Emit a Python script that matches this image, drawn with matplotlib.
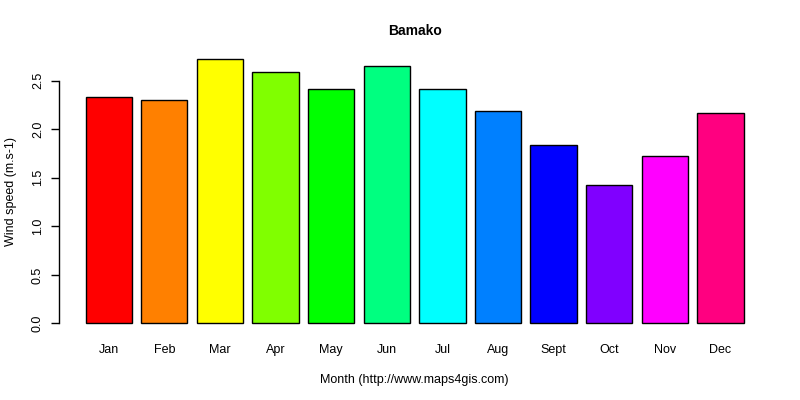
import matplotlib
matplotlib.use("Agg")
import matplotlib.pyplot as plt

months = ["Jan", "Feb", "Mar", "Apr", "May", "Jun", "Jul", "Aug", "Sept", "Oct", "Nov", "Dec"]
wind = [2.33, 2.30, 2.72, 2.59, 2.41, 2.65, 2.41, 2.19, 1.84, 1.43, 1.72, 2.17]
colors = ["#FF0000", "#FF8000", "#FFFF00", "#80FF00", "#00FF00", "#00FF80",
          "#00FFFF", "#0080FF", "#0000FF", "#8000FF", "#FF00FF", "#FF0080"]
yticks = [0.0, 0.5, 1.0, 1.5, 2.0, 2.5]
title = "Bamako"
xlabel = "Month (http://www.maps4gis.com)"
ylabel = "Wind speed (m.s-1)"

plt.rcParams['font.family'] = ['Liberation Sans', 'DejaVu Sans']
fs = 9

fig = plt.figure(figsize=(8, 4), dpi=100)
ax = fig.add_axes([0.074, 0.165, 0.8885, 0.713])

xs = [0.7 + 1.2 * i for i in range(len(wind))]
ax.bar(xs, wind, width=1.0, color=colors, edgecolor="black", linewidth=1.0)

x0, x1 = 0.2, 14.4
dx = (x1 - x0) * 0.04
ax.set_xlim(x0 - dx, x1 + dx)
ymax = max(wind)
ax.set_ylim(-0.04 * ymax, ymax * 1.04)

for s in ["top", "right", "bottom"]:
    ax.spines[s].set_visible(False)
ax.spines["left"].set_bounds(0, 2.5)
ax.spines["left"].set_linewidth(1.0)

ax.set_yticks(yticks)
ax.set_yticklabels([f"{v:.1f}" for v in yticks], rotation=90, va="center", fontsize=fs)
ax.tick_params(axis="y", length=6, width=1.0, pad=5)

ax.set_xticks(xs)
ax.set_xticklabels(months, fontsize=fs)
ax.tick_params(axis="x", length=0, pad=7.5)

ax.set_xlabel(xlabel, fontsize=fs, labelpad=13)
ax.set_ylabel(ylabel, fontsize=fs, labelpad=11)
ax.set_title(title, fontsize=10, fontweight="bold", pad=10)

fig.savefig("out.png", dpi=100)
